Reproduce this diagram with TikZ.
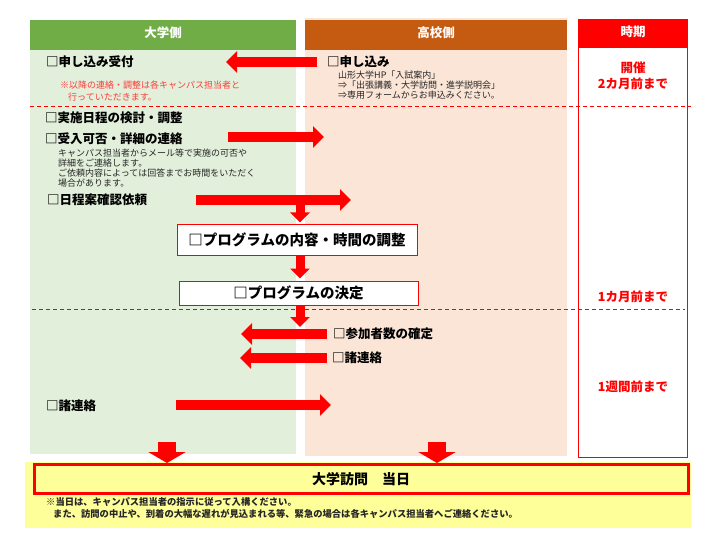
\documentclass[tikz,border=0pt]{standalone}
\usepackage{fontspec}
\setmainfont{Noto Sans CJK JP}
\usetikzlibrary{arrows.meta}
\definecolor{hdrgreen}{HTML}{70AD47}
\definecolor{greenbg}{HTML}{E2EFDA}
\definecolor{hdrorange}{HTML}{C55A11}
\definecolor{peachbg}{HTML}{FBE5D6}
\definecolor{yellowbg}{HTML}{FFFF99}
\definecolor{notered}{HTML}{FF3B3B}
\definecolor{txtgray}{HTML}{262626}
\begin{document}
\begin{tikzpicture}[x=1pt,y=-1pt,
  hdr/.style={inner sep=0pt, text=white, font=\bfseries\fontsize{12.5}{14}\selectfont},
  lbl/.style={inner sep=0pt, anchor=west, font=\bfseries\fontsize{12.5}{15}\selectfont},
  subtxt/.style={inner sep=0pt, anchor=west, align=left, text=txtgray, font=\fontsize{9}{10.2}\selectfont},
  rednote/.style={inner sep=0pt, anchor=west, align=left, text=notered, font=\fontsize{9}{12}\selectfont},
  period/.style={inner sep=0pt, align=center, text=red, font=\bfseries\fontsize{12.5}{16}\selectfont},
  pbox/.style={draw=red, line width=1pt, fill=white, inner sep=0pt, font=\bfseries\fontsize{14.5}{16}\selectfont},
  sepline/.style={draw=red, line width=0.8pt, dash pattern=on 4pt off 3pt},
  harr/.style={draw=red, line width=10pt, -{Triangle[width=21pt,length=11pt]}},
  varr/.style={draw=red, line width=9pt, -{Triangle[width=19pt,length=10pt]}},
  bigvarr/.style={draw=red, line width=18pt, -{Triangle[width=37pt,length=11pt]}}
]
\useasboundingbox (0,0) rectangle (720,540);
% columns
\fill[peachbg] (305,18) rectangle (567,456);
\fill[greenbg] (30,20) rectangle (296,454);
\fill[hdrgreen] (30,20) rectangle (296,50);
\fill[hdrorange] (305,20) rectangle (567,50);
\draw[red, line width=1pt, fill=white] (578.5,48) rectangle (687.5,457);
\fill[red] (578,19) rectangle (688,48);
\node[hdr] (hU) at (163,33) {大学側};
\node[hdr] (hS) at (436,33) {高校側};
\node[hdr] (hT) at (633,32) {時期};
% separators
\draw[sepline] (30,106) -- (691,106);
\draw[sepline] (32,309) -- (685,309);
% periods
\node[period] (p1) at (633,76) {開催\\2カ月前まで};
\node[period] (p2) at (633,297) {1カ月前まで};
\node[period] (p3) at (633,387) {1週間前まで};
% step 1
\node[lbl] (recv) at (46,62) {□申し込み受付};
\node[rednote] (recvnote) at (60,91) {※以降の連絡・調整は各キャンパス担当者と\\\hspace*{8pt}行っていただきます。};
\node[lbl] (apply) at (327,62) {□申し込み};
\node[subtxt] (applynote) at (338,85) {山形大学HP「入試案内」\\⇒「出張講義・大学訪問・進学説明会」\\⇒専用フォームからお申込みください。};
\coordinate (a1s) at (317,62);
\coordinate (a1e) at (226,62);
\draw[harr] (a1s) -- (a1e);
% step 2
\node[lbl] (plan) at (45,118) {□実施日程の検討・調整};
\node[lbl] (accept) at (45,139) {□受入可否・詳細の連絡};
\node[subtxt] (acceptnote) at (58,168) {キャンパス担当者からメール等で実施の可否や\\詳細をご連絡します。\\ご依頼内容によっては回答までお時間をいただく\\場合があります。};
\coordinate (a2s) at (228,137);
\coordinate (a2e) at (324,137);
\draw[harr] (a2s) -- (a2e);
\node[lbl] (confirm) at (47,200) {□日程案確認依頼};
\coordinate (a3s) at (196,200);
\coordinate (a3e) at (351,200);
\draw[harr] (a3s) -- (a3e);
% program boxes
\node[pbox, minimum width=240pt, minimum height=30pt] (prog1) at (297,240) {□プログラムの内容・時間の調整};
\node[pbox, minimum width=239pt, minimum height=24pt] (prog2) at (298.5,293) {□プログラムの決定};
\coordinate (d1s) at (300,203);
\draw[varr] (d1s) -- ([yshift=2pt]prog1.north -| d1s);
\draw[varr] (prog1.south -| d1s) -- ([yshift=2pt]prog2.north -| d1s);
\coordinate (d3e) at (300,327);
\draw[varr] (prog2.south -| d1s) -- (d3e);
% step 3
\node[lbl] (count) at (333,334) {□参加者数の確定};
\coordinate (a4s) at (327,334);
\coordinate (a4e) at (241,334);
\draw[harr] (a4s) -- (a4e);
\node[lbl] (misc1) at (332,358) {□諸連絡};
\coordinate (a5s) at (327,358);
\coordinate (a5e) at (240,358);
\draw[harr] (a5s) -- (a5e);
\node[lbl] (misc2) at (46,406) {□諸連絡};
\coordinate (a6s) at (176,405);
\coordinate (a6e) at (331,405);
\draw[harr] (a6s) -- (a6e);
% visit day
\fill[yellowbg] (25,462) rectangle (691,528);
\node[draw=red, line width=3pt, fill=yellowbg, inner sep=0pt, minimum width=654pt, minimum height=29pt, font=\bfseries\fontsize{14}{16}\selectfont] (visit) at (361,479) {大学訪問　当日};
\coordinate (b1s) at (167,442);
\coordinate (b2s) at (437,442);
\draw[bigvarr] (b1s) -- (visit.north -| b1s);
\draw[bigvarr] (b2s) -- (visit.north -| b2s);
\node[inner sep=0pt, anchor=north west, align=left, font=\bfseries\fontsize{9.3}{12}\selectfont, text=txtgray] (visitnote) at (46,497) {※当日は、キャンパス担当者の指示に従って入構ください。\\\hspace*{7pt}また、訪問の中止や、到着の大幅な遅れが見込まれる等、緊急の場合は各キャンパス担当者へご連絡ください。};
\end{tikzpicture}
\end{document}
